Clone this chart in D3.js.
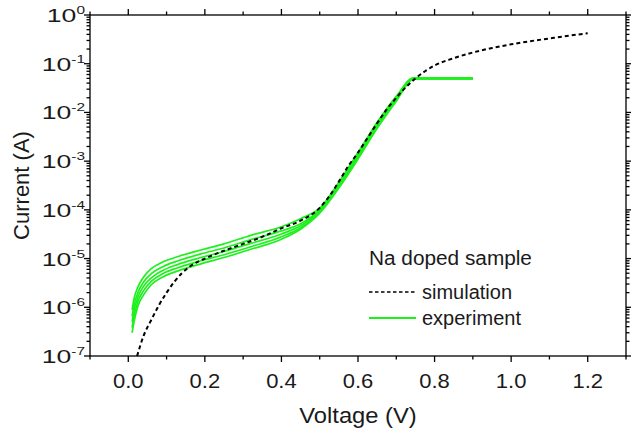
<!DOCTYPE html>
<html>
<head>
<meta charset="utf-8">
<script src="https://cdn.jsdelivr.net/npm/d3@7"></script>
<style>
  body { margin: 0; background: #fff; }
  svg { display: block; font-family: Arial, "Liberation Sans", sans-serif; }
</style>
</head>
<body>
<svg width="631" height="429"></svg>
<script>
// simulation curve
const simV = [0.023, 0.04, 0.06, 0.08, 0.1, 0.12, 0.14, 0.16, 0.18, 0.2, 0.25, 0.3, 0.35, 0.4, 0.45,
  0.5, 0.525, 0.55, 0.575, 0.6, 0.625, 0.65, 0.675, 0.7, 0.725, 0.75, 0.775, 0.8, 0.85, 0.9,
  0.95, 1.0, 1.05, 1.1, 1.15, 1.2];
const simI = [1e-7, 2.6e-7, 5.5e-7, 1.1e-6, 2.0e-6, 3.3e-6, 5.0e-6, 6.8e-6, 8.5e-6, 1.0e-5, 1.45e-5, 2.0e-5, 2.8e-5, 4.2e-5, 6.0e-5,
  1.1e-4, 1.9e-4, 3.8e-4, 8e-4, 1.5e-3, 3e-3, 6e-3, 1.15e-2, 2.0e-2, 3.3e-2, 5.0e-2, 7.0e-2, 9.2e-2, 0.13, 0.17,
  0.21, 0.25, 0.29, 0.33, 0.375, 0.42];

// experimental sweeps, all sampled at the same voltages
const expV = [0.01, 0.015, 0.025, 0.04, 0.06, 0.09, 0.13, 0.19, 0.25, 0.32, 0.4, 0.45, 0.5, 0.55, 0.6, 0.65, 0.7, 0.745, 0.9];
const exp1 = [8.8e-7, 1.5e-6, 2.6e-6, 4.2e-6, 6.2e-6, 8.5e-6, 1.1e-5, 1.5e-5, 2.0e-5, 3.0e-5, 4.5e-5, 6.6e-5, 1.08e-4, 3.7e-4, 1.5e-3, 6.3e-3, 2.15e-2, 5.1e-2, 5.1e-2];
const exp2 = [6.5e-7, 1.1e-6, 2e-6, 3.3e-6, 4.9e-6, 6.8e-6, 9e-6, 1.25e-5, 1.65e-5, 2.45e-5, 3.7e-5, 5.2e-5, 1.0e-4, 3.4e-4, 1.35e-3, 5.8e-3, 2.0e-2, 5.0e-2, 5.0e-2];
const exp3 = [5e-7, 8.5e-7, 1.6e-6, 2.7e-6, 4.0e-6, 5.7e-6, 7.6e-6, 1.05e-5, 1.4e-5, 2.05e-5, 3.2e-5, 4.7e-5, 9.5e-5, 3.2e-4, 1.25e-3, 5.4e-3, 1.9e-2, 5.0e-2, 5.0e-2];
const exp4 = [3.8e-7, 6.5e-7, 1.3e-6, 2.2e-6, 3.4e-6, 4.9e-6, 6.5e-6, 9e-6, 1.2e-5, 1.75e-5, 2.8e-5, 4.3e-5, 9e-5, 3.0e-4, 1.15e-3, 5.0e-3, 1.8e-2, 4.9e-2, 4.9e-2];
const exp5 = [3e-7, 5e-7, 1.05e-6, 1.8e-6, 2.9e-6, 4.2e-6, 5.6e-6, 7.8e-6, 1.05e-5, 1.55e-5, 2.5e-5, 4e-5, 8.5e-5, 2.8e-4, 1.1e-3, 4.7e-3, 1.7e-2, 4.9e-2, 4.9e-2];

const xTickVals = [0, 0.2, 0.4, 0.6, 0.8, 1.0, 1.2];
const yExponents = [-7, -6, -5, -4, -3, -2, -1, 0];

const width = 631, height = 429;
const margin = { top: 15, right: 5, bottom: 73, left: 90 };

const x = d3.scaleLinear().domain([-0.1, 1.3]).range([margin.left, width - margin.right]);
const y = d3.scaleLog().domain([1e-7, 1]).range([height - margin.bottom, margin.top]);

const svg = d3.select("svg");

// minor ticks
const xMinor = d3.range(-0.1, 1.31, 0.1).map(d => +d.toFixed(2)).filter(d => !xTickVals.some(t => Math.abs(t - d) < 1e-6));
const yMinor = [];
yExponents.slice(0, -1).forEach(e => { for (let k = 2; k <= 9; k++) yMinor.push(k * Math.pow(10, e)); });

const x0 = x.range()[0], x1 = x.range()[1], y0 = y.range()[0], y1 = y.range()[1];

const axes = svg.append("g").attr("stroke", "#000").attr("stroke-width", 1.3);
axes.append("rect").attr("x", x0).attr("y", y1).attr("width", x1 - x0).attr("height", y0 - y1).attr("fill", "none");

// ticks on all four sides, pointing out
const allX = xTickVals.map(d => [d, 6]).concat(xMinor.map(d => [d, 3.5]));
allX.forEach(([v, len]) => {
  axes.append("line").attr("x1", x(v)).attr("x2", x(v)).attr("y1", y0).attr("y2", y0 + len);
  axes.append("line").attr("x1", x(v)).attr("x2", x(v)).attr("y1", y1).attr("y2", y1 - len);
});
const allY = yExponents.map(e => [Math.pow(10, e), 6]).concat(yMinor.map(d => [d, 3.5]));
allY.forEach(([v, len]) => {
  axes.append("line").attr("y1", y(v)).attr("y2", y(v)).attr("x1", x0).attr("x2", x0 - len);
  axes.append("line").attr("y1", y(v)).attr("y2", y(v)).attr("x1", x1).attr("x2", x1 + len);
});

// tick labels
svg.append("g").attr("font-size", 20).attr("text-anchor", "middle").attr("fill", "#1a1a1a")
  .selectAll("text").data(xTickVals).join("text")
  .attr("transform", d => `translate(${x(d)},${y0 + 32}) scale(1.1,1)`)
  .text(d => d.toFixed(1));

const yl = svg.append("g").attr("font-size", 19).attr("text-anchor", "end").attr("fill", "#1a1a1a")
  .selectAll("text").data(yExponents).join("text")
  .attr("transform", d => `translate(${x0 - 5},${y(Math.pow(10, d)) + 7}) scale(1.4,1)`);
yl.append("tspan").text("10");
yl.append("tspan").attr("font-size", 11).attr("dy", -8).text(d => d);

// axis titles
svg.append("text").attr("transform", `translate(${(x0 + x1) / 2},423) scale(1.08,1)`).attr("text-anchor", "middle")
  .attr("font-size", 22).attr("fill", "#1a1a1a").text("Voltage (V)");
svg.append("text").attr("transform", `translate(29,${(y0 + y1) / 2}) rotate(-90)`).attr("text-anchor", "middle")
  .attr("font-size", 22).attr("fill", "#1a1a1a").text("Current (A)");

// curves
const line = d3.line().x(d => x(d[0])).y(d => y(d[1])).curve(d3.curveMonotoneX);
const green = "#1ef01e";
[exp1, exp2, exp3, exp4, exp5].forEach(arr => {
  svg.append("path").datum(expV.map((v, i) => [v, arr[i]]))
    .attr("d", line).attr("fill", "none").attr("stroke", green).attr("stroke-width", 1.7);
});
svg.append("path").datum(simV.map((v, i) => [v, simI[i]]))
  .attr("d", line).attr("fill", "none").attr("stroke", "#000").attr("stroke-width", 2)
  .attr("stroke-dasharray", "4,3");

// legend
const lg = svg.append("g").attr("font-size", 20).attr("fill", "#1a1a1a");
lg.append("text").attr("transform", "translate(369,265) scale(1.04,1)").text("Na doped sample");
lg.append("line").attr("x1", 369).attr("x2", 416).attr("y1", 292).attr("y2", 292)
  .attr("stroke", "#000").attr("stroke-width", 1.6).attr("stroke-dasharray", "3.5,2.5");
lg.append("text").attr("x", 422).attr("y", 299).text("simulation");
lg.append("line").attr("x1", 369).attr("x2", 416).attr("y1", 318).attr("y2", 318)
  .attr("stroke", green).attr("stroke-width", 2);
lg.append("text").attr("x", 422).attr("y", 325).text("experiment");
</script>
</body>
</html>
